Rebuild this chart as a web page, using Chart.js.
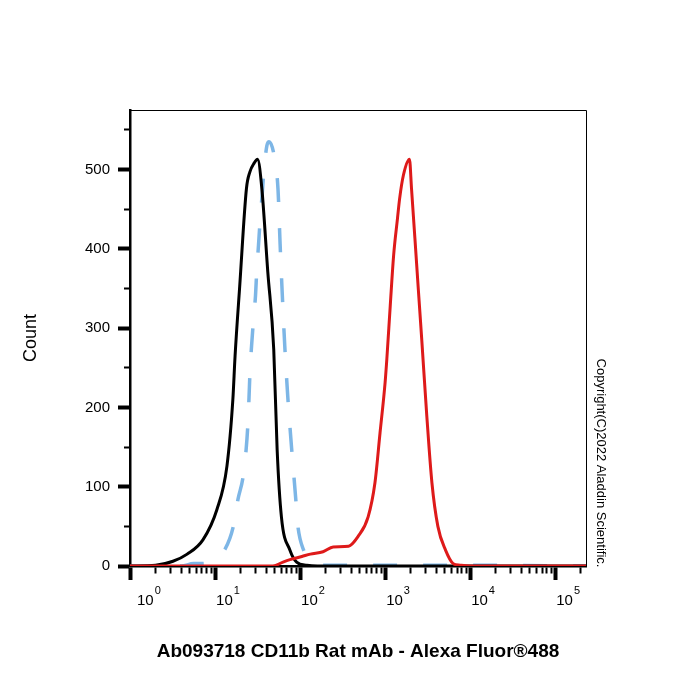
<!DOCTYPE html>
<html>
<head>
<meta charset="utf-8">
<title>CD11b flow histogram</title>
<script src="https://cdn.jsdelivr.net/npm/chart.js@4.4.1/dist/chart.umd.min.js"></script>
<style>
  html, body { margin: 0; padding: 0; background: #fff; }
  canvas { display: block; }
</style>
</head>
<body>
<canvas id="chart" width="700" height="700"></canvas>
<script>
// histogram traces: fluorescence (log axis) vs count
// black solid line
const blackX = [1, 2, 3.2, 4.7, 7.2, 10.5, 13.8, 16.2, 17.2, 19.5, 23.4, 25.7, 28.8, 31.6, 35.5, 41.7, 49, 53.7, 60.3, 76, 91, 120, 160, 230000];
const blackY = [0, 1, 6, 15, 33, 71, 126, 210, 265, 353, 476, 497, 508, 513, 476, 371, 273, 147, 62, 20, 5, 1, 0, 0];
// light blue dashed line
const blueX = [1, 4, 5.6, 7.2, 9.5, 13.2, 16.4, 18.6, 21.4, 23.2, 24.3, 25.1, 25.7, 26.9, 28.2, 29.9, 30.9, 32.4, 33.9, 35.9, 37.6, 40.7, 43.2, 50, 55, 58.2, 61.7, 66, 71.6, 79.4, 89, 93.3, 110, 132, 162, 1000, 10000, 230000];
const blueY = [0, 0, 3, 3, 8, 22, 50, 84, 113, 147, 178, 213, 242, 278, 308, 341, 371, 404, 436, 470, 499, 530, 535, 515, 475, 406, 343, 278, 214, 149, 84, 54, 20, 8, 1, 1, 1, 0];
// red line (stained sample)
const redX = [1, 47.9, 63, 76, 105, 132, 186, 245, 372, 479, 631, 759, 871, 1000, 1047, 1148, 1259, 1396, 1479, 1641, 1932, 2042, 2239, 2455, 2692, 3090, 3548, 4169, 5129, 6310, 7586, 10000, 230000];
const redY = [0, 0, 5, 8, 12, 15, 18, 24, 25, 37, 62, 105, 168, 232, 261, 328, 392, 438, 463, 493, 513, 476, 413, 349, 286, 189, 105, 50, 20, 3, 1, 0, 0];

const xMajor = [1, 10, 100, 1000, 10000, 100000];
const xExponents = ['0', '1', '2', '3', '4', '5'];
const yLabels = [0, 100, 200, 300, 400, 500];

const xMax = 230000;
const yMax = 575;
const xTitle = 'Ab093718 CD11b Rat mAb - Alexa Fluor®488';
const yTitle = 'Count';
const copyright = 'Copyright(C)2022 Aladdin Scientific.';

const FONT = 'Arial, "Liberation Sans", sans-serif';
Chart.defaults.font.family = FONT;
Chart.defaults.color = '#000';

// minor ticks 2..9 in each decade
const xTicks = [];
for (let k = 0; k <= 5; k++) {
  for (let m = 1; m <= 9; m++) {
    const v = m * Math.pow(10, k);
    if (v <= xMax) xTicks.push(v);
  }
}
const yTicks = [];
for (let v = 0; v <= yMax; v += 25) yTicks.push(v);

const toPoints = (xs, ys) => xs.map((x, i) => ({ x: x, y: ys[i] }));
const isXMajor = (c) => c.tick && xMajor.includes(c.tick.value);
const isYMajor = (c) => c.tick && yLabels.includes(c.tick.value);

// thin top/right frame, 10^n labels with a real superscript, copyright note
const extras = {
  id: 'extras',
  afterDraw(chart) {
    const { ctx, chartArea: a } = chart;
    const xs = chart.scales.x;
    ctx.save();
    ctx.strokeStyle = '#000';
    ctx.lineWidth = 1;
    ctx.beginPath();
    ctx.moveTo(a.left, a.top + 0.5);
    ctx.lineTo(a.right + 0.5, a.top + 0.5);
    ctx.lineTo(a.right + 0.5, a.bottom);
    ctx.stroke();

    ctx.fillStyle = '#000';
    ctx.textAlign = 'left';
    ctx.textBaseline = 'alphabetic';
    xMajor.forEach((v, i) => {
      const px = xs.getPixelForValue(v) + (i === 0 ? 7 : 1);
      ctx.font = '15px ' + FONT;
      ctx.fillText('10', px, 605);
      const w = ctx.measureText('10').width;
      ctx.font = '11px ' + FONT;
      ctx.fillText(xExponents[i], px + w + 1, 594);
    });

    ctx.translate(601, 463);
    ctx.rotate(Math.PI / 2);
    ctx.font = '13px ' + FONT;
    ctx.textAlign = 'center';
    ctx.textBaseline = 'middle';
    ctx.fillText(copyright, 0, 0);
    ctx.restore();
  }
};

new Chart(document.getElementById('chart'), {
  type: 'line',
  data: {
    datasets: [{
      data: toPoints(redX, redY),
      borderColor: '#de1a1a',
      borderWidth: 3,
      pointRadius: 0,
      cubicInterpolationMode: 'monotone'
    }, {
      data: toPoints(blackX, blackY),
      borderColor: '#000000',
      borderWidth: 3,
      pointRadius: 0,
      cubicInterpolationMode: 'monotone'
    }, {
      data: toPoints(blueX, blueY),
      borderColor: '#7db6e6',
      borderWidth: 3.5,
      borderDash: [24, 26],
      pointRadius: 0,
      cubicInterpolationMode: 'monotone'
    }]
  },
  options: {
    responsive: false,
    animation: false,
    layout: { padding: { top: 110, right: 114, bottom: 0, left: 0 } },
    plugins: {
      legend: { display: false },
      tooltip: { enabled: false }
    },
    scales: {
      x: {
        type: 'logarithmic',
        min: 1,
        max: xMax,
        afterBuildTicks: (scale) => { scale.ticks = xTicks.map(v => ({ value: v })); },
        afterFit: (scale) => { scale.height = 134; },
        border: { color: '#000', width: 2.5 },
        grid: {
          drawOnChartArea: false,
          tickLength: 14,
          tickColor: '#000',
          tickWidth: (c) => isXMajor(c) ? 4 : 2,
          tickBorderDash: (c) => isXMajor(c) ? [] : [6, 40]
        },
        ticks: {
          autoSkip: false,
          maxRotation: 0,
          minRotation: 0,
          callback: () => ''
        },
        title: {
          display: true,
          text: xTitle,
          font: { size: 19, weight: 'bold' },
          padding: { top: 0, bottom: 37 }
        }
      },
      y: {
        type: 'linear',
        min: 0,
        max: yMax,
        afterBuildTicks: (scale) => { scale.ticks = yTicks.map(v => ({ value: v })); },
        afterFit: (scale) => { scale.width = 130; },
        border: { color: '#000', width: 2.5 },
        grid: {
          drawOnChartArea: false,
          tickLength: 12,
          tickColor: '#000',
          tickWidth: (c) => isYMajor(c) ? 4 : 2,
          tickBorderDash: (c) => isYMajor(c) ? [] : [0, 6, 6, 40]
        },
        ticks: {
          padding: 8,
          font: { size: 15 },
          callback: (v) => yLabels.includes(v) ? String(v) : ''
        },
        title: {
          display: true,
          text: yTitle,
          font: { size: 18 },
          padding: { top: 20, bottom: 0 }
        }
      }
    }
  },
  plugins: [extras]
});
</script>
</body>
</html>
